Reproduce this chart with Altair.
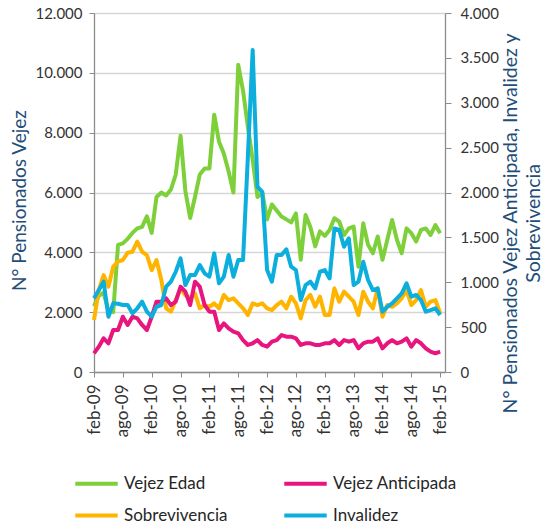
import json
import altair as alt
import pandas as pd

# ---- data (monthly, feb-09 .. feb-15) ----
VEJEZ_EDAD = [2200, 2550, 2650, 2050, 2000, 4250, 4300, 4450, 4650, 4800, 4850, 5200, 4650,
              5850, 6000, 5900, 6100, 6600, 7900, 6050, 5150, 5850, 6600, 6800, 6800, 8600,
              7700, 7300, 6700, 6000, 10270, 9400, 8200, 7100, 5850, 6000, 5100, 5600, 5400,
              5200, 5100, 5000, 5300, 3750, 5250, 4850, 4200, 4700, 4550, 4750, 5140, 5030,
              4580, 4800, 4860, 3520, 4970, 4250, 3970, 4530, 3750, 4420, 5080, 4420, 3970,
              4800, 4640, 4360, 4750, 4800, 4580, 4910, 4640]
VEJEZ_ANTICIPADA = [208, 282, 375, 320, 468, 468, 616, 524, 616, 598, 524, 468, 616, 783, 783,
                    821, 746, 783, 950, 895, 746, 1006, 950, 746, 672, 672, 468, 542, 487, 449,
                    431, 356, 301, 320, 356, 301, 282, 338, 356, 412, 393, 393, 375, 301, 320,
                    320, 301, 301, 320, 320, 356, 301, 356, 338, 356, 264, 320, 338, 338, 375,
                    264, 320, 356, 320, 338, 375, 282, 356, 320, 264, 226, 208, 226]
SOBREVIVENCIA = [579, 913, 1080, 950, 1173, 1229, 1248, 1329, 1340, 1452, 1340, 1303, 1136,
                 1248, 1025, 710, 672, 802, 932, 858, 821, 877, 710, 746, 727, 765, 710, 858,
                 802, 821, 765, 710, 635, 765, 746, 765, 710, 690, 746, 783, 710, 839, 765, 598,
                 802, 858, 727, 839, 635, 635, 932, 783, 895, 839, 783, 635, 895, 783, 710, 932,
                 616, 746, 727, 765, 821, 913, 746, 802, 913, 727, 783, 802, 654]
INVALIDEZ = [821, 913, 1006, 616, 765, 760, 746, 746, 654, 710, 783, 672, 616, 727, 746, 950,
             1006, 1117, 1266, 969, 1080, 1080, 1192, 1099, 1062, 1322, 988, 1062, 1303, 1062,
             1248, 1248, 2400, 3587, 2064, 2008, 1136, 1006, 1303, 1303, 1367, 1173, 1136, 802,
             969, 1006, 932, 1117, 1136, 1043, 1600, 1582, 1396, 1489, 969, 1006, 1229, 1025,
             913, 932, 672, 727, 765, 821, 877, 988, 839, 858, 802, 672, 690, 710, 635]
TICK_LABELS = ["feb-09", "ago-09", "feb-10", "ago-10", "feb-11", "ago-11", "feb-12",
               "ago-12", "feb-13", "ago-13", "feb-14", "ago-14", "feb-15"]
SERIES = ["Vejez Edad", "Vejez Anticipada", "Sobrevivencia", "Invalidez"]
COLORS = ["#7ED03B", "#E8157E", "#FFB400", "#0BAEDC"]

rows = []
for name, vals in zip(SERIES, [VEJEZ_EDAD, VEJEZ_ANTICIPADA, SOBREVIVENCIA, INVALIDEZ]):
    for i, v in enumerate(vals):
        rows.append({"idx": i, "value": v, "series": name})
df = pd.DataFrame(rows)

FONT = "Lato"
TXT = "#333333"
TITLE_C = "#1F4E79"
AX_C = "#8C8C8C"

num_expr = "replace(format(datum.value, ','), ',', '.')"
x_expr = json.dumps(TICK_LABELS) + "[round(datum.value / 6)]"

x_enc = alt.X(
    "idx:Q",
    scale=alt.Scale(domain=[0, 73], nice=False, zero=False),
    axis=alt.Axis(values=list(range(0, 73, 6)), labelExpr=x_expr, labelAngle=270,
                  labelAlign="right", labelBaseline="middle", labelPadding=7,
                  labelFontSize=17, labelFont=FONT, labelColor=TXT, grid=False,
                  tickSize=5, tickColor=AX_C, domainColor=AX_C, domainWidth=1.3,
                  title=None, labelOverlap=False, labelFlush=False),
)

color_enc = alt.Color(
    "series:N",
    scale=alt.Scale(domain=SERIES, range=COLORS),
    legend=alt.Legend(orient="none", legendX=-21, legendY=447, columns=2, direction="horizontal",
                      title=None, symbolType="stroke", symbolSize=1800, symbolStrokeWidth=4,
                      labelFontSize=17, labelFont=FONT, labelColor="#262626",
                      columnPadding=48, rowPadding=-17, labelOffset=4),
)

y_left = alt.Y(
    "value:Q",
    scale=alt.Scale(domain=[0, 12000], nice=False),
    axis=alt.Axis(values=list(range(0, 12001, 2000)), labelExpr=num_expr, orient="left",
                  labelFontSize=15, labelFont=FONT, labelColor=TXT, labelPadding=7,
                  tickSize=5, tickColor=AX_C, domainColor=AX_C, domainWidth=1.3,
                  grid=True, gridColor="#D6D6D6", gridWidth=1.5,
                  title="N° Pensionados Vejez", titleFont=FONT, titleFontSize=19,
                  titleFontWeight="normal", titleColor=TITLE_C, titleAngle=270,
                  titleX=-75, titleY=187, titleBaseline="middle", titleAlign="center"),
)

y_right = alt.Y(
    "value:Q",
    scale=alt.Scale(domain=[0, 4000], nice=False),
    axis=alt.Axis(values=list(range(0, 4001, 500)), labelExpr=num_expr, orient="right",
                  labelFontSize=15, labelFont=FONT, labelColor=TXT, labelPadding=9,
                  tickSize=6, tickColor=AX_C, domainColor=AX_C, domainWidth=1.3,
                  grid=False,
                  title=["N° Pensionados Vejez Anticipada, Invalidez y", "Sobrevivencia"],
                  titleFont=FONT, titleFontSize=19.5, titleFontWeight="normal",
                  titleColor=TITLE_C, titleAngle=270, titleX=65, titleY=210,
                  titleBaseline="middle", titleAlign="center", titleLineHeight=23),
)

base = alt.Chart(df)


def line(name, y):
    return base.transform_filter(alt.datum.series == name).mark_line(
        strokeWidth=4, strokeJoin="round"
    ).encode(x=x_enc, y=y, color=color_enc)


left = line("Vejez Edad", y_left)
right = alt.layer(line("Sobrevivencia", y_right), line("Vejez Anticipada", y_right),
                  line("Invalidez", y_right))

chart = alt.layer(left, right).resolve_scale(y="independent").properties(
    width=351, height=359,
    autosize=alt.AutoSizeParams(type="none"),
    padding={"left": 86, "top": 5, "right": 100, "bottom": 149},
).configure_view(strokeWidth=0)

chart.save("out.html", embed_options={"renderer": "svg", "actions": False})
